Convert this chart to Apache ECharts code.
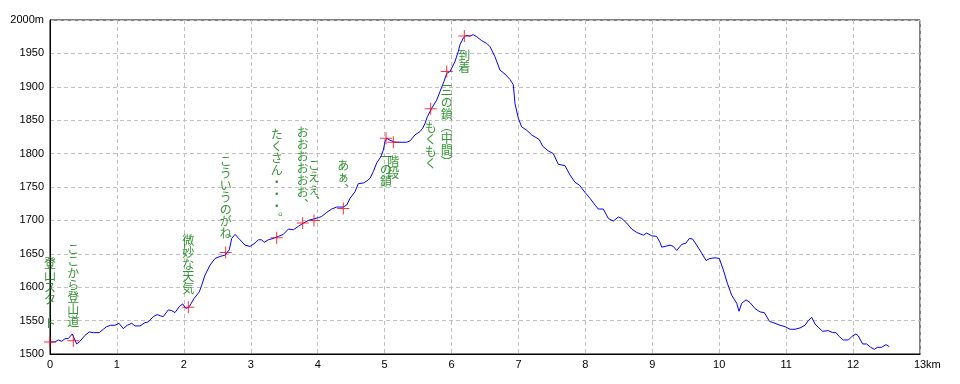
<!DOCTYPE html>
<html>
<head>
<meta charset="utf-8">
<script src="https://cdn.jsdelivr.net/npm/echarts@6/dist/echarts.min.js"></script>
<style>
html,body{margin:0;padding:0;background:#fff;}
#chart{width:960px;height:384px;}
</style>
</head>
<body>
<div id="chart"></div>
<script>
// Elevation profile: distance (km) and elevation (m)
const distKm = [0.000,0.075,0.124,0.175,0.224,0.273,0.333,0.399,0.448,0.523,0.587,0.647,0.737,0.796,0.847,0.907,0.971,1.031,1.095,1.155,1.221,1.270,1.345,1.420,1.469,1.544,1.603,1.654,1.693,1.768,1.818,1.868,1.932,1.983,2.032,2.082,2.152,2.231,2.267,2.316,2.391,2.466,2.540,2.615,2.679,2.715,2.765,2.839,2.914,2.989,3.063,3.113,3.163,3.198,3.262,3.337,3.411,3.486,3.561,3.636,3.710,3.785,3.860,3.934,4.009,4.060,4.135,4.209,4.284,4.383,4.434,4.483,4.558,4.607,4.682,4.733,4.782,4.831,4.882,4.942,4.980,5.006,5.031,5.080,5.155,5.330,5.379,5.454,5.529,5.569,5.603,5.638,5.704,5.778,5.828,5.887,5.928,5.977,6.052,6.101,6.126,6.176,6.216,6.276,6.325,6.376,6.451,6.525,6.575,6.649,6.724,6.799,6.874,6.923,6.948,6.998,7.048,7.123,7.198,7.311,7.362,7.446,7.521,7.595,7.695,7.770,7.845,7.909,7.994,8.069,8.144,8.193,8.268,8.342,8.417,8.492,8.543,8.617,8.692,8.767,8.865,8.916,8.991,9.065,9.115,9.141,9.190,9.265,9.314,9.365,9.439,9.503,9.553,9.603,9.663,9.738,9.803,9.862,9.937,10.001,10.061,10.121,10.186,10.261,10.296,10.336,10.400,10.460,10.535,10.610,10.674,10.749,10.833,10.908,10.983,11.058,11.132,11.207,11.282,11.331,11.382,11.431,11.480,11.546,11.630,11.696,11.745,11.794,11.854,11.929,11.979,12.043,12.078,12.143,12.203,12.227,12.263,12.317,12.362,12.427,12.492,12.541];
const elevM = [1518,1518,1521,1519,1523,1523,1530,1515,1519,1528,1533,1532,1532,1537,1541,1543,1543,1546,1538,1543,1546,1542,1542,1547,1548,1556,1559,1557,1556,1566,1565,1562,1571,1575,1568,1571,1583,1593,1603,1618,1633,1643,1646,1648,1656,1673,1679,1671,1663,1661,1666,1671,1671,1667,1671,1673,1676,1679,1687,1686,1691,1696,1700,1702,1704,1706,1712,1717,1720,1720,1723,1733,1743,1755,1756,1759,1763,1773,1786,1795,1805,1818,1823,1820,1817,1817,1819,1828,1833,1838,1845,1855,1868,1880,1893,1908,1920,1923,1938,1953,1963,1973,1977,1976,1978,1975,1969,1965,1960,1945,1925,1919,1911,1903,1875,1853,1840,1835,1828,1821,1811,1804,1800,1784,1782,1768,1757,1753,1742,1733,1723,1717,1717,1703,1699,1705,1703,1696,1687,1682,1678,1681,1677,1676,1667,1660,1661,1663,1661,1655,1664,1666,1673,1672,1663,1651,1640,1643,1644,1643,1626,1606,1588,1576,1564,1576,1581,1577,1568,1563,1562,1549,1546,1543,1541,1537,1537,1539,1543,1550,1555,1545,1540,1534,1535,1532,1532,1526,1521,1521,1526,1530,1527,1515,1515,1517,1510,1507,1510,1510,1514,1511];

// Waypoint markers
const markKm = [0, 0.348, 2.067, 2.625, 3.387, 3.776, 3.945, 4.383, 5.021, 5.130, 5.689, 5.928, 6.191];
const markM = [1518, 1520, 1570, 1652, 1674, 1696, 1700, 1718, 1823, 1817, 1867, 1923, 1976];
const markText = ['登山スタート','ここから登山道','微妙な天気','こういうのがね','たくさん・・・。','おおおおおお、','こえぇ、','あぁ、','一の鎖','階段','もくもく','三の鎖(中間)','到着'];

// Axis ticks
const xMin = 0, xMax = 13, xStep = 1;
const yMin = 1500, yMax = 2000, yStep = 50;

const verticalMap = {'ー':'︱','(':'︵',')':'︶','、':'︑','。':'︒'};
function toVertical(s){
  return Array.from(s).map(c => verticalMap[c] || c).join('\n');
}

const lineData = distKm.map((d,i) => [d, elevM[i]]);
const markData = markKm.map((d,i) => ({
  name: markText[i],
  value: [d, markM[i]],
  label: { position: markM[i] > 1800 ? 'bottom' : 'top' }
}));

const chart = echarts.init(document.getElementById('chart'), null, {renderer:'canvas'});
chart.setOption({
  animation: false,
  backgroundColor: '#ffffff',
  grid: {
    left: 50, right: 40, top: 20, bottom: 30,
    show: true, borderColor: '#000', borderWidth: 1,
    outerBoundsMode: 'none'
  },
  xAxis: {
    type: 'value', min: xMin, max: xMax, interval: xStep,
    name: 'km', nameLocation: 'end', nameGap: 6, nameMoveOverlap: false,
    nameTextStyle: { color:'#000', fontSize: 11, fontFamily: 'Liberation Sans', verticalAlign: 'top', padding: [5,0,0,0] },
    axisLine: { show: true, lineStyle: { color: '#000', width: 1 } },
    axisTick: { show: false },
    axisLabel: { color: '#000', fontSize: 11, fontFamily: 'Liberation Sans', margin: 5 },
    splitLine: { show: true, lineStyle: { color: '#c0c0c0', type: [4,3], width: 1 } }
  },
  yAxis: {
    type: 'value', min: yMin, max: yMax, interval: yStep,
    axisLine: { show: true, lineStyle: { color: '#000', width: 1 } },
    axisTick: { show: false },
    axisLabel: { color: '#000', fontSize: 11, fontFamily: 'Liberation Sans', margin: 6,
      formatter: v => v === yMax ? v + 'm' : String(v) },
    splitLine: { show: true, lineStyle: { color: '#c0c0c0', type: [4,3], width: 1 } }
  },
  series: [
    {
      type: 'line', data: lineData, symbol: 'none', smooth: false,
      lineStyle: { color: '#0000ff', width: 1 }, z: 2
    },
    {
      type: 'scatter', data: markData,
      symbol: 'path://M0,5.5L12,5.5L12,6.5L0,6.5Z M5.5,0L6.5,0L6.5,12L5.5,12Z',
      symbolSize: 12,
      itemStyle: { color: '#ff0000' },
      z: 3,
      label: {
        show: true, distance: 7,
        formatter: p => toVertical(p.name),
        color: '#007a00', fontSize: 12, lineHeight: 12,
        fontFamily: 'Noto Sans CJK JP', align: 'center'
      },
      labelLayout: { hideOverlap: false }
    }
  ]
});
</script>
</body>
</html>
